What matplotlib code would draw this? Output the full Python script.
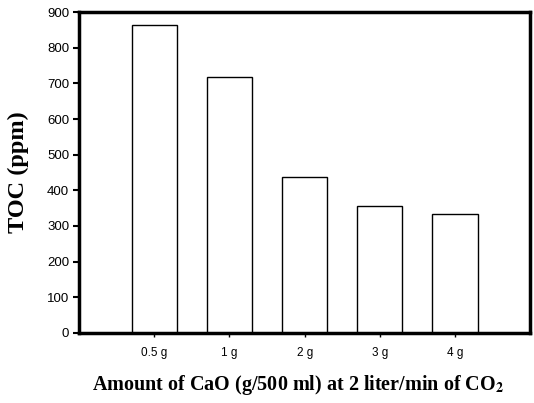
import matplotlib
matplotlib.use("Agg")
import matplotlib.pyplot as plt

# ========== DATA ==========
categories = ["0.5 g", "1 g", "2 g", "3 g", "4 g"]
toc_ppm = [863, 719, 436, 357, 333]
y_ticks = [0, 100, 200, 300, 400, 500, 600, 700, 800, 900]
# ==========================

plt.rcParams["mathtext.fontset"] = "stix"

fig = plt.figure(figsize=(5.34, 4.03), dpi=100)
ax = fig.add_axes([0.148, 0.174, 0.845, 0.796])

positions = list(range(1, len(categories) + 1))
ax.bar(positions, toc_ppm, width=0.6, color="white", edgecolor="black", linewidth=1.0)

ax.set_xlim(0, 6)
ax.set_ylim(0, 900)
ax.set_yticks(y_ticks)
ax.set_xticks(positions)
ax.set_xticklabels(categories, fontsize=8.5, family="Liberation Sans")
for lbl in ax.get_yticklabels():
    lbl.set_fontsize(9.5)
    lbl.set_family("Liberation Sans")

ax.tick_params(axis="y", direction="out", length=4, width=1.5, pad=3)
ax.tick_params(axis="x", direction="out", length=3, width=1.0, pad=7)

for side in ["left", "right", "top", "bottom"]:
    ax.spines[side].set_linewidth(2.5)

ax.set_ylabel("TOC (ppm)", fontsize=17.5, fontweight="bold", family="Liberation Serif", labelpad=13)
ax.set_xlabel(r"Amount of CaO (g/500 ml) at 2 liter/min of CO$_\mathbf{2}$",
              fontsize=14.5, fontweight="bold", family="Liberation Serif", labelpad=10, x=0.485)

fig.savefig("out.png", dpi=100)
